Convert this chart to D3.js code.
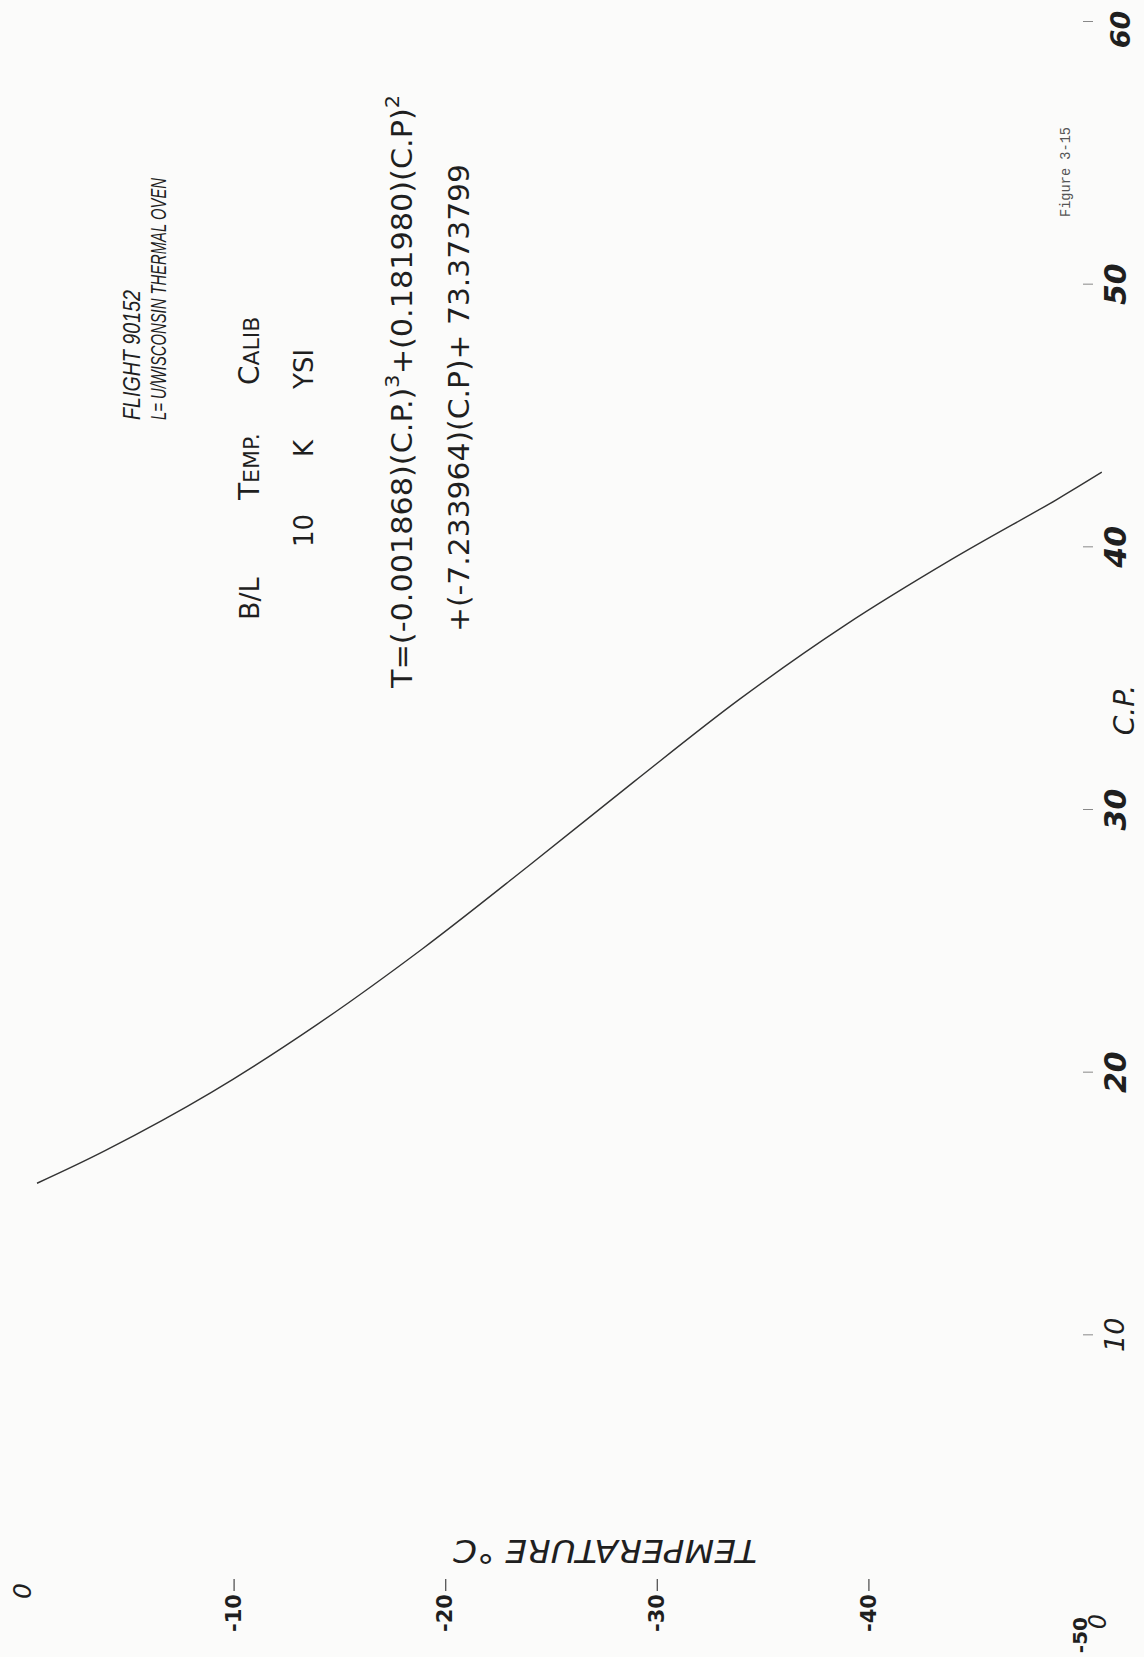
<!DOCTYPE html>
<html>
<head>
<meta charset="utf-8">
<script src="https://cdn.jsdelivr.net/npm/d3@7"></script>
<style>
  html, body { margin: 0; padding: 0; background: #fbfbfa; }
  svg { display: block; }
</style>
</head>
<body>
<script>
// Thermistor calibration: count reading (C.P.) against oven temperature (°C)
const cpValues   = [15.79, 17.04, 19.25, 21.83, 24.72, 27.86, 31.07, 34.21, 37.03, 39.52, 41.81, 42.86];
const tempValues = [-0.71, -3.95, -8.95, -13.94, -18.93, -23.92, -28.91, -33.90, -38.89, -43.89, -48.88, -51.03];

const cpTicks        = [0, 10, 20, 30, 40, 50, 60];
const cpTickLabels   = ["0", "10", "20", "30", "40", "50", "60"];
const tempTicks      = [0, -10, -20, -30, -40, -50];
const tempTickLabels = ["0", "-10", "-20", "-30", "-40", "-50"];

const titleLines   = ["FLIGHT  90152", "L= U/WISCONSIN THERMAL OVEN"];
const sensorWords  = ["B/L", "TEMP.", "CALIB"];
const sensorWords2 = ["10", "K", "YSI"];
const equationParts1 = ["T=(-0.001868)(C.P.)", "3", "+(0.181980)(C.P)", "2"];
const equationLine2  = "+(-7.233964)(C.P)+  73.373799";
const xTitle = "C.P.";
const yTitle = "TEMPERATURE  °C";
const figureNote = "Figure 3-15";

const W = 1144, H = 1657;
const ink = "#1f1f1f";
const hand = "'DejaVu Sans', 'Noto Sans', sans-serif";

const svg = d3.select("body").append("svg").attr("width", W).attr("height", H);
svg.append("rect").attr("width", W).attr("height", H).attr("fill", "#fbfbfa");

// The sheet is laid out in landscape and turned a quarter-turn onto the page:
// sheet (u, v) lands at page (v, H - u).
const sheet = svg.append("g").attr("transform", `translate(0,${H}) rotate(-90)`);

const x = d3.scaleLinear().domain([0, 60]).range([59, 1635]);
const y = d3.scaleLinear().domain([0, -50]).range([22, 1080]);

// ---- C.P. axis (no axis line, short dashes by the labels)
const cpAxis = d3.axisBottom(x)
  .tickValues(cpTicks)
  .tickFormat(d => cpTickLabels[cpTicks.indexOf(d)])
  .tickSize(10)
  .tickPadding(12);
const gx = sheet.append("g").attr("transform", `translate(0,${y(-50) + 3})`).call(cpAxis);
gx.select(".domain").remove();
gx.selectAll(".tick line").attr("stroke", "#888").attr("stroke-width", 1);
gx.selectAll(".tick text")
  .attr("font-family", hand)
  .attr("font-size", 30)
  .attr("font-weight", "bold")
  .attr("font-style", "italic")
  .attr("fill", ink);
gx.selectAll(".tick").filter(d => d === 10).select("text")
  .attr("font-weight", "normal").attr("font-size", 27);
gx.selectAll(".tick").filter(d => d === 60).select("text")
  .attr("font-size", 27).attr("y", 28).attr("x", -8);
const gx0 = gx.selectAll(".tick").filter(d => d === 0);
gx0.select("line").remove();
gx0.select("text").attr("font-weight", "normal").attr("font-size", 24)
  .attr("y", 6).attr("x", -24);

// ---- Temperature axis
const tAxis = d3.axisLeft(y)
  .tickValues(tempTicks)
  .tickFormat(d => tempTickLabels[tempTicks.indexOf(d)])
  .tickSize(12)
  .tickPadding(3);
const gy = sheet.append("g").attr("transform", `translate(${x(0) + 19},0)`).call(tAxis);
gy.select(".domain").remove();
gy.selectAll(".tick line").attr("stroke", "#555").attr("stroke-width", 1.3);
gy.selectAll(".tick text")
  .attr("font-family", hand)
  .attr("font-size", 21)
  .attr("font-weight", "bold")
  .attr("fill", ink);
gy.selectAll(".tick").filter(d => d === 0 || d === -50).select("line").remove();
gy.selectAll(".tick").filter(d => d === 0).select("text")
  .attr("font-size", 25).attr("font-weight", "normal").attr("font-style", "italic").attr("x", -4);
gy.selectAll(".tick").filter(d => d === -50).select("text")
  .attr("font-size", 20).attr("x", -38);

// ---- Calibration curve
const pts = cpValues.map((cp, i) => ({ cp, t: tempValues[i] }));
sheet.append("path")
  .datum(pts)
  .attr("fill", "none")
  .attr("stroke", "#333")
  .attr("stroke-width", 1.4)
  .attr("d", d3.line().x(d => x(d.cp)).y(d => y(d.t)).curve(d3.curveCatmullRom));

// ---- Axis titles
sheet.append("text")
  .attr("x", 947).attr("y", 1134)
  .attr("text-anchor", "middle")
  .attr("font-family", hand).attr("font-size", 28).attr("font-style", "italic")
  .attr("fill", ink)
  .text(xTitle);

sheet.append("text")
  .attr("transform", "translate(117,605) rotate(-90)")
  .attr("text-anchor", "middle")
  .attr("font-family", hand).attr("font-size", 32).attr("font-style", "italic")
  .attr("textLength", 304).attr("lengthAdjust", "spacingAndGlyphs")
  .attr("fill", ink)
  .text(yTitle);

// ---- Title block
const titleFont = "'Liberation Sans Narrow', 'Liberation Sans', sans-serif";
sheet.append("text")
  .attr("x", 1237).attr("y", 140)
  .attr("font-family", titleFont).attr("font-size", 23).attr("font-style", "italic")
  .attr("textLength", 130).attr("lengthAdjust", "spacingAndGlyphs")
  .attr("fill", ink).text(titleLines[0]);
sheet.append("text")
  .attr("x", 1237).attr("y", 166)
  .attr("font-family", titleFont).attr("font-size", 22).attr("font-style", "italic")
  .attr("textLength", 242).attr("lengthAdjust", "spacingAndGlyphs")
  .attr("fill", ink).text(titleLines[1]);

// "B/L  TEMP.  CALIB" with small-cap tails
const sensorU = [1037, 1157, 1272];
sensorWords.forEach((w, i) => {
  const t = sheet.append("text")
    .attr("x", sensorU[i]).attr("y", 259)
    .attr("font-family", hand).attr("fill", ink);
  if (i === 0) {
    t.attr("font-size", 27).text(w);
  } else {
    t.append("tspan").attr("font-size", 28).text(w[0]);
    t.append("tspan").attr("font-size", 22).text(w.slice(1));
  }
});

const sensorU2 = [1110, 1200, 1268];
sensorWords2.forEach((w, i) => {
  sheet.append("text")
    .attr("x", sensorU2[i]).attr("y", 313)
    .attr("font-family", hand).attr("font-size", 26).attr("fill", ink)
    .text(w);
});

// ---- Fitted polynomial
const eq1 = sheet.append("text")
  .attr("x", 969).attr("y", 412)
  .attr("font-family", hand).attr("font-size", 29).attr("fill", ink)
  .attr("textLength", 593).attr("lengthAdjust", "spacingAndGlyphs");
equationParts1.forEach((p, i) => {
  const sup = i % 2 === 1;
  eq1.append("tspan")
    .attr("dy", sup ? -13 : (i > 0 ? 13 : 0))
    .attr("font-size", sup ? 20 : 29)
    .text(p);
});

sheet.append("text")
  .attr("x", 1025).attr("y", 469)
  .attr("font-family", hand).attr("font-size", 29).attr("fill", ink)
  .attr("textLength", 468).attr("lengthAdjust", "spacingAndGlyphs")
  .text(equationLine2);

// ---- Typed figure number
sheet.append("text")
  .attr("x", 1440).attr("y", 1070)
  .attr("font-family", "'Liberation Mono', 'DejaVu Sans Mono', monospace")
  .attr("font-size", 14).attr("fill", "#555")
  .attr("textLength", 90).attr("lengthAdjust", "spacingAndGlyphs")
  .text(figureNote);
</script>
</body>
</html>
